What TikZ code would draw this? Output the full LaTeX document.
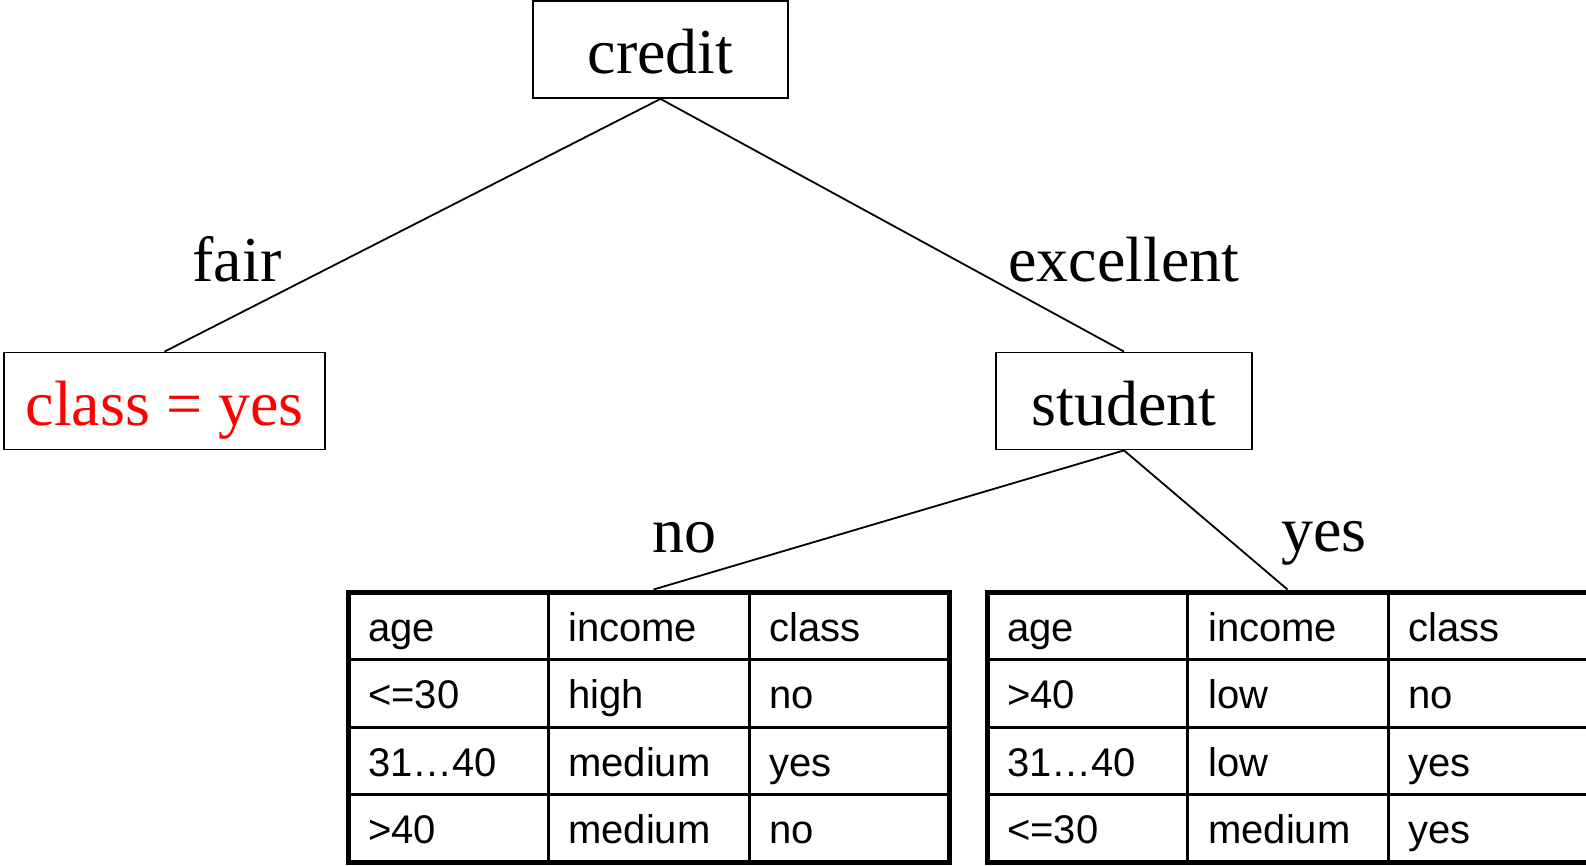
\documentclass[tikz,border=0pt]{standalone}
\usepackage{fontspec}
\setmainfont{Liberation Serif}
\newfontfamily\tablefont{Liberation Sans}
\usetikzlibrary{calc}
\begin{document}
\begin{tikzpicture}[x=1pt,y=-1pt,
  treebox/.style={draw, line width=1.8pt, inner sep=0pt, minimum height=97pt,
    text height=48pt, text depth=0pt, font=\fontsize{64}{70}\selectfont},
  branch/.style={line width=1.8pt},
  edgelabel/.style={anchor=base, inner sep=0pt, font=\fontsize{64}{70}\selectfont},
  datatable/.style={draw, line width=5pt, inner sep=0pt, minimum width=601pt, minimum height=270pt},
  gridline/.style={line width=3pt},
  cell/.style={anchor=base west, inner sep=0pt, font=\tablefont\fontsize{40}{44}\selectfont}]
\useasboundingbox (0,0) rectangle (1586,865);

% decision nodes and leaf
\node[treebox, minimum width=255pt] (credit) at (660.5,49.5) {credit};
\node[treebox, minimum width=321pt, text=red] (leaf) at (164.5,401) {class = yes};
\node[treebox, minimum width=256pt] (student) at (1124,401) {student};

% remaining training tuples under "student"
\node[datatable] (tno) at (648.5,727) {};
\node[datatable] (tyes) at (1287.5,727) {};

% branches
\draw[branch] (credit.south) -- (leaf.north);
\draw[branch] (credit.south) -- (student.north);
\draw[branch] (student.south) -- ($(tno.north)+(5,0)$);
\draw[branch] (student.south) -- (tyes.north);

% branch labels
\node[edgelabel] (lfair) at (237,281) {fair};
\node[edgelabel] (lexc) at (1124,281) {excellent};
\node[edgelabel] (lno) at (684,552) {no};
\node[edgelabel] (lyes) at (1324,551) {yes};

% table grids
\foreach \x in {348,987} {
  \draw[gridline] (\x+200,592) -- (\x+200,862);
  \draw[gridline] (\x+401,592) -- (\x+401,862);
  \foreach \y in {659.5,727,794.5}
    \draw[gridline] (\x,\y) -- (\x+601,\y);
}

% table contents
\foreach \r/\a/\b/\c in {0/age/income/class, 1/<=30/high/no, 2/31…40/medium/yes, 3/>40/medium/no} {
  \node[cell] (tno-\r-1) at (368,641+67.5*\r) {\a};
  \node[cell] (tno-\r-2) at (568,641+67.5*\r) {\b};
  \node[cell] (tno-\r-3) at (769,641+67.5*\r) {\c};
}
\foreach \r/\a/\b/\c in {0/age/income/class, 1/>40/low/no, 2/31…40/low/yes, 3/<=30/medium/yes} {
  \node[cell] (tyes-\r-1) at (1007,641+67.5*\r) {\a};
  \node[cell] (tyes-\r-2) at (1208,641+67.5*\r) {\b};
  \node[cell] (tyes-\r-3) at (1408,641+67.5*\r) {\c};
}
\end{tikzpicture}
\end{document}
